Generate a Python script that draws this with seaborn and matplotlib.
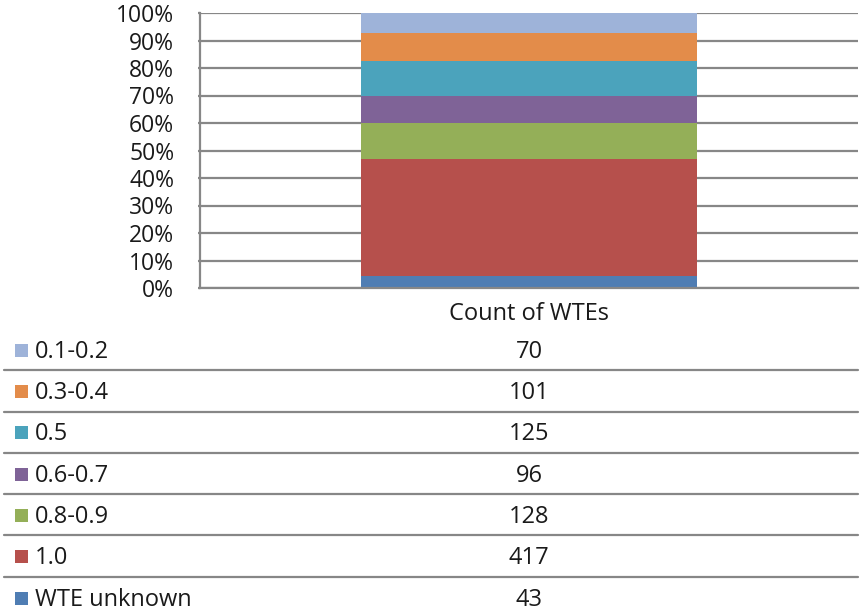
import numpy as np
import pandas as pd
import matplotlib
matplotlib.use('Agg')
import matplotlib.pyplot as plt
import seaborn as sns

# series, bottom of the stack first
bands = ['WTE unknown', '1.0', '0.8-0.9', '0.6-0.7', '0.5', '0.3-0.4', '0.1-0.2']
counts = [43, 417, 128, 96, 125, 101, 70]
colors = ['#4F7DB3', '#B6504C', '#94AF58', '#7F6397', '#4BA3BC', '#E38C4A', '#9EB3D9']
category = 'Count of WTEs'

sns.set_theme(style='white')
plt.rcParams['font.family'] = ['Open Sans', 'DejaVu Sans']

df = pd.DataFrame({'band': bands, 'count': counts, 'color': colors})
df['share'] = df['count'] / df['count'].sum() * 100
df['cum'] = df['share'].cumsum()

W, H = 861, 610
fig = plt.figure(figsize=(W / 100, H / 100), dpi=100)
ax = fig.add_axes([200 / W, 1 - 288 / H, 658 / W, 275 / H])

grid_col = '#878787'
txt_col = '#1a1a1a'
# gridlines behind the bar
for v in range(0, 101, 10):
    ax.axhline(v, color=grid_col, lw=1.6, zorder=0)

# overlay cumulative bars from the top down to get a 100% stack
for _, row in df.iloc[::-1].iterrows():
    sns.barplot(x=[category], y=[row['cum']], color=row['color'], width=0.512,
                saturation=1, ax=ax, zorder=2, edgecolor='none', linewidth=0)

ax.set_ylim(0, 100)
ax.set_xlim(-0.5, 0.5)
ax.set_yticks(range(0, 101, 10))
ax.set_yticklabels([f'{v}%' for v in range(0, 101, 10)])
ax.set_xlabel('')
ax.set_ylabel('')
ax.tick_params(axis='y', labelsize=16.5, colors=txt_col, length=1.6, width=1.6,
               color=grid_col, pad=17, left=True)
ax.tick_params(axis='x', labelsize=17, colors=txt_col, length=0, pad=10)
for s in ['top', 'right']:
    ax.spines[s].set_visible(False)
for s in ['left', 'bottom']:
    ax.spines[s].set_color(grid_col)
    ax.spines[s].set_linewidth(1.6)

# data table below the chart
row_h = 41.3
n = len(bands)
tab = fig.add_axes([0, 1 - (329 + n * row_h) / H, 1, n * row_h / H])
tab.set_xlim(0, W)
tab.set_ylim(n, 0)
tab.axis('off')
for i, (_, row) in enumerate(df.iloc[::-1].reset_index(drop=True).iterrows()):
    y = i + 0.5
    tab.add_patch(plt.Rectangle((15, y - 0.14), 13, 13 / row_h, color=row['color'], lw=0))
    tab.text(35, y + 0.05, row['band'], va='center', ha='left', fontsize=17, color=txt_col)
    tab.text(529, y + 0.05, str(row['count']), va='center', ha='center', fontsize=17, color=txt_col)
    if i < n - 1:
        tab.plot([4, 858], [i + 1, i + 1], color=grid_col, lw=1.6)

fig.savefig('out.png', dpi=100)
